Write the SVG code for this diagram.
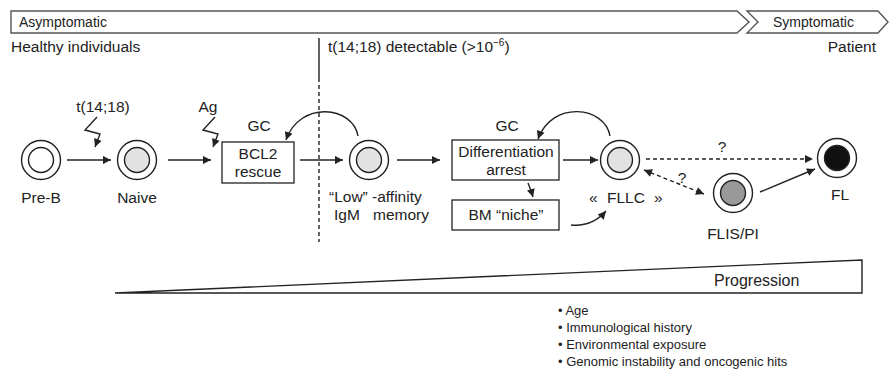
<svg xmlns="http://www.w3.org/2000/svg" width="890" height="380" viewBox="0 0 890 380">
<style>
text{font-family:"Liberation Sans",Arial,sans-serif;font-size:15.5px;fill:#222}
.c{text-anchor:middle}
.ln{fill:none;stroke:#222;stroke-width:1.4}
.dash{stroke-dasharray:4,3}
.box{fill:#fff;stroke:#222;stroke-width:1.3}
.ban{fill:#fff;stroke:#555;stroke-width:1.4}
.out{fill:#fff;stroke:#222;stroke-width:1.4}
.in{stroke:#222;stroke-width:1.4}
.b{font-size:13px}
</style>
<defs>
<marker id="ah" viewBox="0 0 10 10" refX="10" refY="5" markerWidth="10" markerHeight="8" markerUnits="userSpaceOnUse" orient="auto-start-reverse"><path d="M0,0 L10,5 L0,10 z" fill="#222"/></marker>
</defs>
<g id="banner">
<path class="ban" d="M11,11 L737,11 L749,22 L737,33 L11,33 Z"/>
<path class="ban" d="M747,11 L878,11 L888,22 L878,33 L747,33 L758,22 Z"/>
<text x="19" y="27" style="font-size:14px">Asymptomatic</text>
<text x="773" y="27" style="font-size:14px">Symptomatic</text>
<text x="11" y="52">Healthy individuals</text>
<text x="876" y="52" style="text-anchor:end">Patient</text>
<text x="328" y="52">t(14;18) detectable (&gt;10<tspan dy="-6" style="font-size:10px">−6</tspan><tspan dy="6">)</tspan></text>
</g>
<g id="divider">
<path class="ln" d="M319,38 L319,78"/>
<path class="ln dash" d="M319,78 L319,242"/>
</g>
<g id="preb">
<circle class="out" cx="41" cy="160" r="19.5"/>
<circle class="in" cx="41" cy="160" r="12.5" fill="#fff"/>
<text class="c" x="41" y="203">Pre-B</text>
</g>
<g id="naive">
<circle class="out" cx="137" cy="160" r="19.5"/>
<circle class="in" cx="137" cy="160" r="12.5" fill="#e2e2e2"/>
<text class="c" x="137" y="203">Naive</text>
</g>
<g id="bcl2">
<rect class="box" x="222" y="142" width="72" height="41"/>
<text class="c" x="258" y="159">BCL2</text>
<text class="c" x="258" y="177">rescue</text>
<text class="c" x="259" y="131">GC</text>
</g>
<g id="low">
<circle class="out" cx="369" cy="160" r="19.5"/>
<circle class="in" cx="369" cy="160" r="12.5" fill="#e2e2e2"/>
<text x="329" y="202">“Low” -affinity</text>
<text x="334" y="220">IgM</text>
<text x="373" y="220">memory</text>
</g>
<g id="diff">
<rect class="box" x="452" y="140" width="107" height="40"/>
<text class="c" x="506" y="157">Differentiation</text>
<text class="c" x="506" y="175">arrest</text>
<text class="c" x="507" y="131">GC</text>
</g>
<g id="bm">
<rect class="box" x="452" y="200" width="107" height="30"/>
<text class="c" x="506" y="220">BM “niche”</text>
</g>
<g id="fllc">
<circle class="out" cx="620" cy="160" r="19.5"/>
<circle class="in" cx="620" cy="160" r="12.5" fill="#e2e2e2"/>
<text x="589" y="203">«</text>
<text x="607" y="203">FLLC</text>
<text x="654" y="203">»</text>
</g>
<g id="flis">
<circle class="out" cx="733" cy="193" r="19.5"/>
<circle class="in" cx="733" cy="193" r="12.5" fill="#999"/>
<text class="c" x="733" y="239">FLIS/PI</text>
</g>
<g id="fl">
<circle class="out" cx="837" cy="158" r="19.5"/>
<circle class="in" cx="837" cy="158" r="12.5" fill="#111"/>
<text class="c" x="840" y="200">FL</text>
</g>
<g id="connectors">
<path class="ln" d="M67,160 L111,160" marker-end="url(#ah)"/>
<path class="ln" d="M168,160 L211,160" marker-end="url(#ah)"/>
<path class="ln" d="M300,160 L343,160" marker-end="url(#ah)"/>
<path class="ln" d="M397,160 L440,160" marker-end="url(#ah)"/>
<path class="ln" d="M563,160 L598,160" marker-end="url(#ah)"/>
<path class="ln dash" d="M646,159 L813,159" marker-end="url(#ah)"/>
<path class="ln dash" d="M644,170 L704,194" marker-start="url(#ah)" marker-end="url(#ah)"/>
<path class="ln" d="M760,192 L815,169" marker-end="url(#ah)"/>
<path class="ln" d="M358,136 C353,106 300,100 286,140" marker-end="url(#ah)"/>
<path class="ln" d="M610,136 C605,106 552,100 538,139" marker-end="url(#ah)"/>
<path class="ln" d="M528,183 Q531,190 533,197" marker-end="url(#ah)"/>
<path class="ln" d="M571,225 Q592,227 606,211" marker-end="url(#ah)"/>
<path class="ln" d="M97,117 L85,130 L100,134 L95,147" marker-end="url(#ah)"/>
<path class="ln" d="M215,117 L203,130 L218,134 L213,147" marker-end="url(#ah)"/>
<text class="c" x="103" y="112">t(14;18)</text>
<text class="c" x="208" y="112">Ag</text>
<text class="c" x="722" y="152">?</text>
<text class="c" x="682" y="183">?</text>
</g>
<g id="progression">
<path d="M115,293 L862,260 L862,293 Z" fill="#fff" stroke="#222" stroke-width="1.4"/>
<text x="714" y="286" style="font-size:16px">Progression</text>
</g>
<g id="factors">
<text class="b" x="558" y="315">•  Age</text>
<text class="b" x="558" y="332">•  Immunological history</text>
<text class="b" x="558" y="349">•  Environmental exposure</text>
<text class="b" x="558" y="366">•  Genomic instability and oncogenic hits</text>
</g>
</svg>
